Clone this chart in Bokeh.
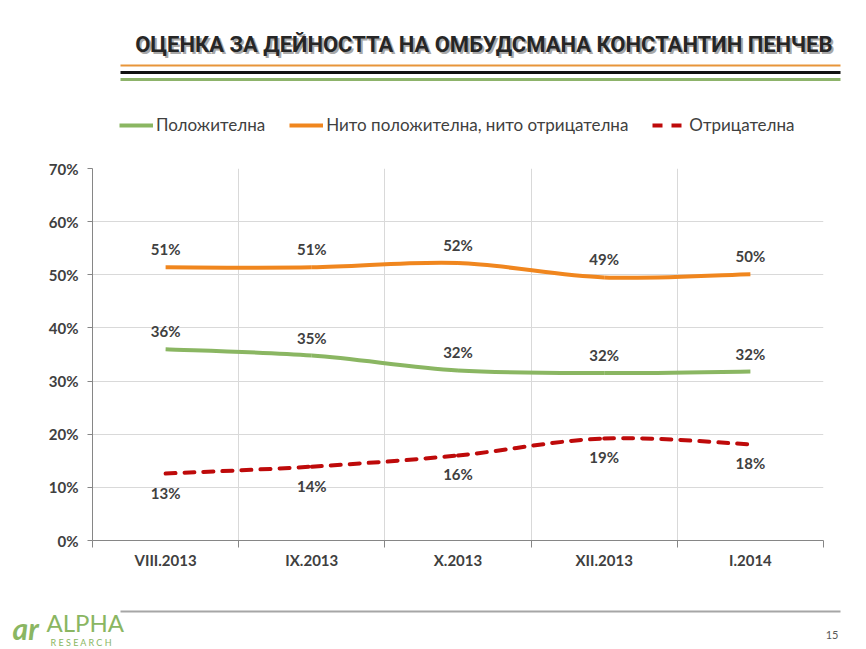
from bokeh.plotting import figure
from bokeh.layouts import column, row
from bokeh.models import (Range1d, FixedTicker, PrintfTickFormatter, Label, BoxAnnotation,
                          Legend, LegendItem, ColumnDataSource, LabelSet)
from bokeh.core.properties import value
from bokeh.embed import file_html
from bokeh.resources import INLINE

# ---------------- data ----------------
title_text = "ОЦЕНКА ЗА ДЕЙНОСТТА НА ОМБУДСМАНА КОНСТАНТИН ПЕНЧЕВ"
categories = ["VIII.2013", "IX.2013", "X.2013", "XII.2013", "I.2014"]
series_names = ["Положителна", "Нито положителна, нито отрицателна", "Отрицателна"]
positive = [36.0, 34.8, 32.0, 31.5, 31.8]
neutral = [51.4, 51.4, 52.2, 49.5, 50.1]
negative = [12.6, 13.9, 16.0, 19.2, 18.1]
positive_labels = ["36%", "35%", "32%", "32%", "32%"]
neutral_labels = ["51%", "51%", "52%", "49%", "50%"]
negative_labels = ["13%", "14%", "16%", "19%", "18%"]
y_ticks = [0, 10, 20, 30, 40, 50, 60, 70]
page_number = "15"

GREEN = "#8AB662"
ORANGE = "#F0861E"
RED = "#BE0A0A"
TEXT = "#404040"
FONT = "Lato"
W = 866


def blank(h):
    f = figure(width=W, height=h, output_backend="svg", toolbar_location=None,
               x_range=Range1d(0, W), y_range=Range1d(h, 0),
               x_axis_location=None, y_axis_location=None,
               min_border=0, min_border_left=0, min_border_right=0,
               min_border_top=0, min_border_bottom=0)
    f.grid.visible = False
    f.outline_line_color = None
    f.background_fill_color = "white"
    f.border_fill_color = "white"
    return f


centers = [i + 0.5 for i in range(len(categories))]
all_series = [positive, neutral, negative]
legend_styles = [(GREEN, "solid"), (ORANGE, "solid"), (RED, "10 9")]

# ---------------- header (title, rules, legend) ----------------
HH = 150
head = blank(HH)
TITLE_FONT = "Roboto"
head.add_layout(Label(x=834, y=46, text=title_text, text_align="right", text_baseline="alphabetic",
                      text_font=TITLE_FONT, text_font_style="bold", text_font_size="22px",
                      text_color="#A8A8A8"))
head.add_layout(Label(x=832, y=44, text=title_text, text_align="right", text_baseline="alphabetic",
                      text_font=TITLE_FONT, text_font_style="bold", text_font_size="22px",
                      text_color="#262626"))
for yy, col, th in [(65, "#E8953A", 2), (72, "#111111", 3), (79, "#8DB36A", 3)]:
    head.add_layout(BoxAnnotation(left=120, right=840, top=yy - th / 2, bottom=yy + th / 2,
                                  fill_color=col, fill_alpha=1, line_color=None))

items = []
for vals, (col, dash), name in zip(all_series, legend_styles, series_names):
    # hidden copy of the series: only its legend glyph is shown in the header
    r = head.line(x=centers, y=vals, line_color=col, line_width=4, line_dash=dash, visible=False)
    items.append(LegendItem(label=name, renderers=[r]))
head.add_layout(Legend(items=items, orientation="horizontal", location=(119, HH - 135),
                       glyph_width=34, glyph_height=18, label_height=18, label_standoff=3, spacing=24,
                       padding=0, margin=0, border_line_color=None, background_fill_alpha=0,
                       label_text_font=FONT, label_text_font_size="17px", label_text_color=TEXT))

# ---------------- main chart ----------------
p = figure(width=W, height=440, output_backend="svg", toolbar_location=None,
           x_range=Range1d(0, len(categories)), y_range=Range1d(0, 70),
           min_border_left=92, min_border_right=43, min_border_top=18, min_border_bottom=50)
p.outline_line_color = None
p.background_fill_color = "white"
p.border_fill_color = "white"

xa = p.xaxis[0]
xa.ticker = FixedTicker(ticks=centers, minor_ticks=list(range(len(categories) + 1)))
xa.major_label_overrides = {c: lab for c, lab in zip(centers, categories)}
xa.major_tick_line_color = None
xa.major_tick_out = 0
xa.major_tick_in = 0
xa.minor_tick_out = 7
xa.minor_tick_in = 0
xa.minor_tick_line_color = "#868686"
xa.axis_line_color = "#868686"
xa.major_label_standoff = 3
xa.major_label_text_font = FONT
xa.major_label_text_font_style = "bold"
xa.major_label_text_font_size = "15px"
xa.major_label_text_color = TEXT

ya = p.yaxis[0]
ya.ticker = FixedTicker(ticks=y_ticks)
ya.formatter = PrintfTickFormatter(format="%d%%")
ya.axis_line_color = "#868686"
ya.major_tick_line_color = "#868686"
ya.major_tick_out = 5
ya.major_tick_in = 0
ya.minor_tick_line_color = None
ya.major_label_standoff = 9
ya.major_label_text_font = FONT
ya.major_label_text_font_style = "bold"
ya.major_label_text_font_size = "15px"
ya.major_label_text_color = TEXT

p.xgrid.ticker = FixedTicker(ticks=list(range(1, len(categories) + 1)))
p.xgrid.grid_line_color = "#D9D9D9"
p.ygrid.ticker = FixedTicker(ticks=y_ticks[1:])
p.ygrid.grid_line_color = "#D9D9D9"


def smooth(xs, ys):
    """Bezier control points (Catmull-Rom style) for a smoothed line through the data."""
    n = len(xs)
    d = dict(x0=[], y0=[], x1=[], y1=[], cx0=[], cy0=[], cx1=[], cy1=[])
    for i in range(n - 1):
        xp, yp = (xs[i - 1], ys[i - 1]) if i > 0 else (xs[i], ys[i])
        xn, yn = (xs[i + 2], ys[i + 2]) if i + 2 < n else (xs[i + 1], ys[i + 1])
        d["x0"].append(xs[i]); d["y0"].append(ys[i])
        d["x1"].append(xs[i + 1]); d["y1"].append(ys[i + 1])
        d["cx0"].append(xs[i] + (xs[i + 1] - xp) / 6); d["cy0"].append(ys[i] + (ys[i + 1] - yp) / 6)
        d["cx1"].append(xs[i + 1] - (xn - xs[i]) / 6); d["cy1"].append(ys[i + 1] - (yn - ys[i]) / 6)
    return ColumnDataSource(d)


label_sets = [positive_labels, neutral_labels, negative_labels]
offsets = [18, 18, -19]
for vals, labs, off, (col, dash) in zip(all_series, label_sets, offsets, legend_styles):
    p.bezier(x0="x0", y0="y0", x1="x1", y1="y1", cx0="cx0", cy0="cy0", cx1="cx1", cy1="cy1",
             source=smooth(centers, vals), line_color=col, line_width=4,
             line_dash=dash, line_cap="round" if dash != "solid" else "butt")
    src = ColumnDataSource(dict(x=centers, y=vals, t=labs))
    p.add_layout(LabelSet(x="x", y="y", text="t", source=src, y_offset=off,
                          text_align="center", text_baseline="middle",
                          text_font=value(FONT), text_font_style="bold",
                          text_font_size="15px", text_color=TEXT))

# ---------------- footer ----------------
FH = 59
foot = blank(FH)
foot.add_layout(BoxAnnotation(left=120, right=840, top=20, bottom=22,
                              fill_color="#A6A6A6", fill_alpha=1, line_color=None))
foot.add_layout(Label(x=838, y=48, text=page_number, text_align="right", text_font=FONT,
                      text_font_size="11px", text_color="#595959"))
foot.add_layout(Label(x=12, y=55, text="ar", text_font=FONT, text_font_style="bold italic",
                      text_font_size="30px", text_color=GREEN))
foot.add_layout(Label(x=46, y=46, text="ALPHA", text_font=FONT, text_font_size="24px",
                      text_color=GREEN))
foot.add_layout(Label(x=50, y=57, text="R E S E A R C H", text_font=FONT, text_font_size="9px",
                      text_color=GREEN))

layout = column(row(head), p, row(foot), spacing=0)
open("out.html", "w").write(file_html(layout, INLINE))
